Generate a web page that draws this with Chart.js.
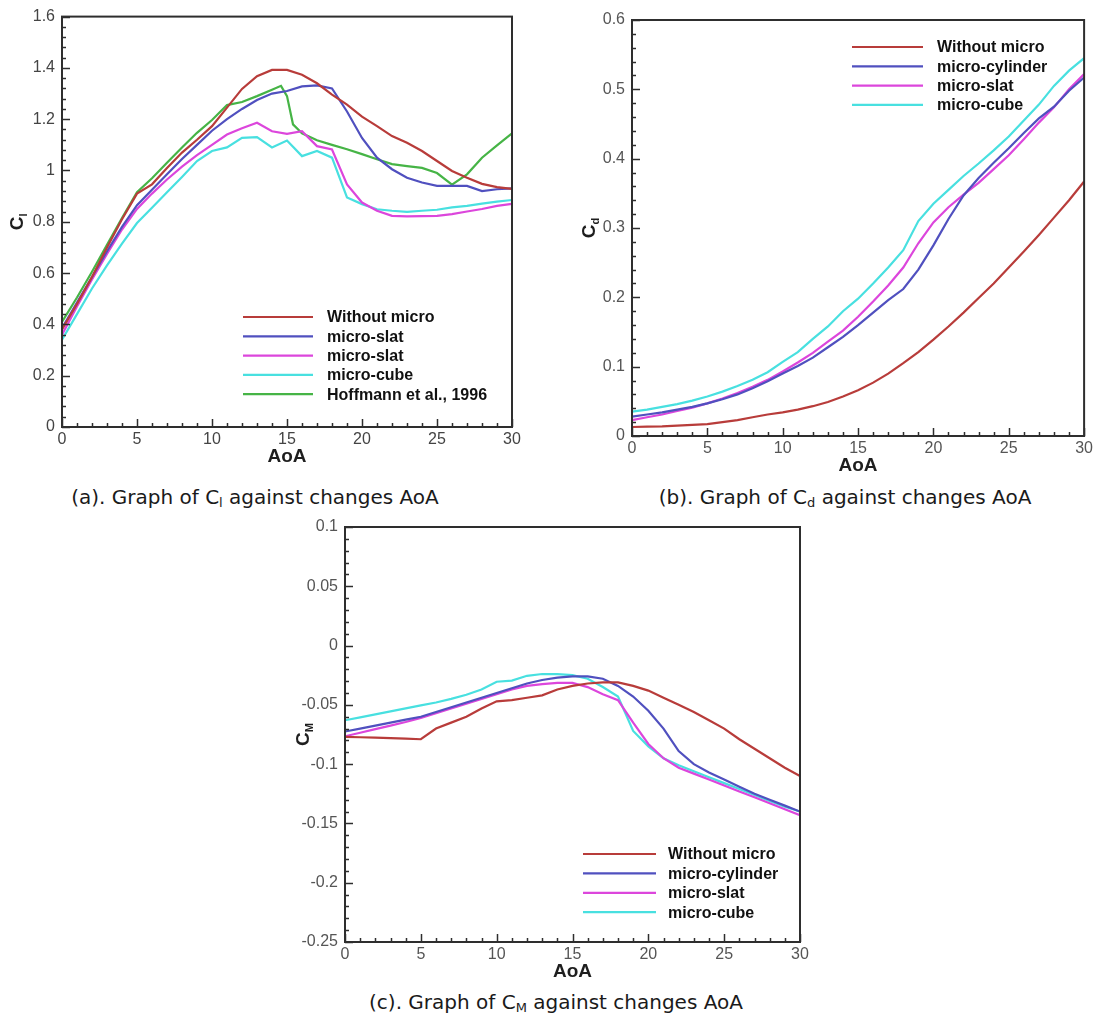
<!DOCTYPE html>
<html lang="en">
<head>
  <meta charset="UTF-8">
  <title>Cl, Cd and CM against AoA</title>
  <script src="https://cdn.jsdelivr.net/npm/chart.js"></script>
  <style>
    body { margin: 0; background: #fff; width: 1096px; height: 1018px; position: relative; overflow: hidden; }
    .box { position: absolute; }
    .cap { position: absolute; font-family: "DejaVu Sans", sans-serif; font-size: 20px;
           line-height: 24px; color: #1a1a1a; white-space: nowrap; transform: translateX(-50%); }
    .cap sub { font-size: 13px; vertical-align: -3px; line-height: 0; }
  </style>
</head>
<body>
  <div class="box" style="left:0;top:0;width:540px;height:470px"><canvas id="chartA"></canvas></div>
  <div class="box" style="left:560px;top:0;width:536px;height:480px"><canvas id="chartB"></canvas></div>
  <div class="box" style="left:270px;top:510px;width:550px;height:470px"><canvas id="chartC"></canvas></div>

  <div class="cap" style="left:255px;top:485px">(a). Graph of C<sub>l</sub> against changes AoA</div>
  <div class="cap" style="left:845px;top:485px">(b). Graph of C<sub>d</sub> against changes AoA</div>
  <div class="cap" style="left:556px;top:990px">(c). Graph of C<sub>M</sub> against changes AoA</div>

  <script>
    // angle of attack (deg)
    const aoa = [0,1,2,3,4,5,6,7,8,9,10,11,12,13,14,15,16,17,18,19,20,21,22,23,24,25,26,27,28,29,30];
    const hoffAoa = [0,1,2,3,4,5,6,7,8,9,10,11,12,13,14,14.6,15,15.4,16,17,18,19,20,21,22,23,24,25,26,27,28,29,30];

    // (a) lift coefficient
    const clWithout = [0.38,0.48,0.585,0.70,0.81,0.91,0.946,1.01,1.07,1.12,1.173,1.245,1.318,1.368,1.392,1.392,1.373,1.34,1.296,1.257,1.21,1.173,1.134,1.108,1.076,1.037,0.998,0.972,0.948,0.935,0.928];
    const clSlat1   = [0.385,0.485,0.585,0.685,0.78,0.865,0.925,0.985,1.045,1.10,1.155,1.20,1.24,1.275,1.30,1.31,1.328,1.332,1.32,1.23,1.127,1.05,1.005,0.972,0.953,0.94,0.94,0.94,0.92,0.927,0.93];
    const clSlat2   = [0.36,0.47,0.575,0.675,0.77,0.85,0.91,0.965,1.015,1.06,1.10,1.14,1.165,1.186,1.153,1.143,1.153,1.095,1.082,0.946,0.875,0.843,0.823,0.821,0.822,0.823,0.83,0.84,0.85,0.862,0.87];
    const clCube    = [0.34,0.44,0.54,0.63,0.715,0.795,0.855,0.915,0.975,1.037,1.076,1.09,1.127,1.13,1.09,1.117,1.056,1.076,1.05,0.895,0.869,0.849,0.843,0.839,0.843,0.847,0.856,0.862,0.871,0.879,0.885];
    const clHoff    = [0.41,0.505,0.605,0.71,0.815,0.915,0.97,1.03,1.09,1.147,1.197,1.255,1.267,1.29,1.315,1.33,1.29,1.18,1.145,1.118,1.10,1.083,1.064,1.044,1.025,1.017,1.01,0.99,0.945,0.985,1.05,1.098,1.145];

    // (b) drag coefficient
    const cdWithout  = [0.013,0.0135,0.014,0.015,0.016,0.017,0.02,0.023,0.027,0.031,0.034,0.038,0.043,0.049,0.057,0.066,0.077,0.09,0.105,0.121,0.139,0.158,0.178,0.199,0.22,0.243,0.266,0.29,0.315,0.34,0.367];
    const cdCylinder = [0.028,0.031,0.034,0.038,0.042,0.047,0.053,0.06,0.069,0.079,0.09,0.101,0.113,0.128,0.143,0.16,0.178,0.196,0.212,0.24,0.275,0.313,0.347,0.372,0.394,0.415,0.437,0.458,0.475,0.498,0.517];
    const cdSlat     = [0.023,0.027,0.031,0.036,0.041,0.047,0.054,0.062,0.071,0.081,0.093,0.106,0.12,0.136,0.152,0.172,0.194,0.217,0.243,0.278,0.308,0.33,0.348,0.365,0.385,0.405,0.428,0.452,0.474,0.5,0.522];
    const cdCube     = [0.035,0.038,0.042,0.046,0.051,0.057,0.064,0.072,0.081,0.092,0.107,0.121,0.14,0.158,0.18,0.198,0.22,0.243,0.268,0.31,0.335,0.355,0.375,0.393,0.412,0.432,0.455,0.478,0.505,0.527,0.545];

    // (c) moment coefficient
    const cmWithout  = [-0.077,-0.0773,-0.0776,-0.078,-0.0785,-0.079,-0.07,-0.065,-0.06,-0.053,-0.047,-0.046,-0.044,-0.042,-0.037,-0.034,-0.032,-0.031,-0.031,-0.034,-0.038,-0.044,-0.05,-0.056,-0.063,-0.07,-0.079,-0.087,-0.095,-0.103,-0.11];
    const cmCylinder = [-0.0725,-0.07,-0.0675,-0.065,-0.0625,-0.06,-0.056,-0.052,-0.048,-0.044,-0.04,-0.036,-0.032,-0.029,-0.027,-0.026,-0.026,-0.028,-0.034,-0.043,-0.055,-0.07,-0.089,-0.1,-0.107,-0.113,-0.119,-0.125,-0.13,-0.135,-0.14];
    const cmSlat     = [-0.0765,-0.0735,-0.0705,-0.0675,-0.0645,-0.061,-0.057,-0.053,-0.049,-0.045,-0.041,-0.037,-0.034,-0.0325,-0.0315,-0.0315,-0.035,-0.041,-0.046,-0.065,-0.083,-0.095,-0.103,-0.108,-0.113,-0.118,-0.123,-0.128,-0.133,-0.138,-0.143];
    const cmCube     = [-0.063,-0.0605,-0.058,-0.0555,-0.053,-0.0505,-0.048,-0.045,-0.0415,-0.037,-0.0305,-0.0295,-0.0255,-0.024,-0.024,-0.025,-0.028,-0.035,-0.043,-0.072,-0.085,-0.095,-0.101,-0.106,-0.111,-0.116,-0.121,-0.126,-0.131,-0.136,-0.14];

    const RED = '#b83c3a', BLUE = '#5050bf', MAGENTA = '#dc46dc', CYAN = '#48e0e0', GREEN = '#46b446';

    Chart.defaults.font.family = '"Liberation Sans", Arial, sans-serif';
    Chart.defaults.animation = false;

    function series(label, color, xs, ys) {
      return {
        label: label,
        data: xs.map((x, i) => ({ x: x, y: ys[i] })),
        borderColor: color,
        borderWidth: 2.2,
        pointRadius: 0,
        tension: 0,
        fill: false
      };
    }

    // frame, inward ticks, axis titles and legend, drawn on top of the chart
    function decor(cfg) {
      return {
        id: 'decor',
        afterDraw(chart) {
          const ctx = chart.ctx;
          const a = chart.chartArea;
          const xs = chart.scales.x, ys = chart.scales.y;
          ctx.save();
          ctx.strokeStyle = '#2e2e2e';
          ctx.lineWidth = 1.5;
          // minor + major ticks on x
          const xn = Math.round(xs.max - xs.min);
          for (let i = 0; i <= xn; i++) {
            const px = Math.round(xs.getPixelForValue(xs.min + i)) + 0.5;
            const len = (i % 5 === 0) ? 8 : 4;
            ctx.beginPath(); ctx.moveTo(px, a.bottom); ctx.lineTo(px, a.bottom - len); ctx.stroke();
          }
          // minor + major ticks on y
          const yn = Math.round((ys.max - ys.min) / cfg.yMinor);
          for (let i = 0; i <= yn; i++) {
            const py = Math.round(ys.getPixelForValue(ys.min + i * cfg.yMinor)) + 0.5;
            const len = (i % 5 === 0) ? 8 : 4;
            ctx.beginPath(); ctx.moveTo(a.left, py); ctx.lineTo(a.left + len, py); ctx.stroke();
          }
          ctx.lineWidth = 2;
          ctx.strokeRect(a.left, a.top, a.right - a.left, a.bottom - a.top);

          // x title
          ctx.fillStyle = '#1e1e1e';
          ctx.font = 'bold 19px "Liberation Sans", Arial, sans-serif';
          ctx.textAlign = 'center';
          ctx.textBaseline = 'middle';
          ctx.fillText('AoA', (a.left + a.right) / 2, a.bottom + 30);

          // rotated y title with subscript
          ctx.save();
          ctx.translate(a.left - cfg.yTitleGap, (a.top + a.bottom) / 2);
          ctx.rotate(-Math.PI / 2);
          ctx.textAlign = 'left';
          ctx.textBaseline = 'alphabetic';
          ctx.font = 'bold 19px "Liberation Sans", Arial, sans-serif';
          const wc = ctx.measureText('C').width;
          ctx.font = 'bold 11px "Liberation Sans", Arial, sans-serif';
          const wsub = ctx.measureText(cfg.ySub).width;
          const x0 = -(wc + wsub) / 2;
          ctx.font = 'bold 19px "Liberation Sans", Arial, sans-serif';
          ctx.fillText('C', x0, 7);
          ctx.font = 'bold 11px "Liberation Sans", Arial, sans-serif';
          ctx.fillText(cfg.ySub, x0 + wc, 11);
          ctx.restore();

          // legend
          ctx.textAlign = 'left';
          ctx.textBaseline = 'middle';
          ctx.font = 'bold 16px "Liberation Sans", Arial, sans-serif';
          chart.data.datasets.forEach((ds, i) => {
            const y = cfg.legY + i * cfg.legDy;
            ctx.strokeStyle = ds.borderColor;
            ctx.lineWidth = 2.2;
            ctx.beginPath(); ctx.moveTo(cfg.legX1, y); ctx.lineTo(cfg.legX2, y); ctx.stroke();
            ctx.fillStyle = '#111';
            ctx.fillText(ds.label, cfg.legText, y + 1);
          });
          ctx.restore();
        }
      };
    }

    function makeChart(id, datasets, box, yAxis, cfg) {
      const fmt = v => String(+Number(v).toFixed(3));
      return new Chart(document.getElementById(id), {
        type: 'line',
        data: { datasets: datasets },
        options: {
          responsive: true,
          maintainAspectRatio: false,
          layout: { autoPadding: false, padding: { left: 0, top: box.top, right: box.right, bottom: 0 } },
          plugins: { legend: { display: false }, tooltip: { enabled: false } },
          scales: {
            x: {
              type: 'linear', min: 0, max: 30,
              grid: { display: false, drawTicks: false }, border: { display: false },
              ticks: { stepSize: 5, autoSkip: false, maxRotation: 0, padding: 3, color: cfg.tickColor,
                       font: { size: 16 }, callback: fmt },
              afterFit: s => { s.height = box.xHeight; }
            },
            y: {
              type: 'linear', min: yAxis.min, max: yAxis.max,
              grid: { display: false, drawTicks: false }, border: { display: false },
              ticks: { stepSize: yAxis.step, autoSkip: false, padding: 7, color: cfg.tickColor,
                       font: { size: 16 }, callback: fmt },
              afterFit: s => { s.width = box.yWidth; }
            }
          }
        },
        plugins: [decor(cfg)]
      });
    }

    makeChart('chartA', [
      series('Without micro', RED, aoa, clWithout),
      series('micro-slat', BLUE, aoa, clSlat1),
      series('micro-slat', MAGENTA, aoa, clSlat2),
      series('micro-cube', CYAN, aoa, clCube),
      series('Hoffmann et al., 1996', GREEN, hoffAoa, clHoff)
    ], { top: 15, right: 28, xHeight: 43, yWidth: 62 },
       { min: 0, max: 1.6, step: 0.2 },
       { yMinor: 0.04, ySub: 'l', yTitleGap: 46, tickColor: '#444',
         legX1: 243, legX2: 313, legText: 327, legY: 317, legDy: 19.3 });

    makeChart('chartB', [
      series('Without micro', RED, aoa, cdWithout),
      series('micro-cylinder', BLUE, aoa, cdCylinder),
      series('micro-slat', MAGENTA, aoa, cdSlat),
      series('micro-cube', CYAN, aoa, cdCube)
    ], { top: 20, right: 9, xHeight: 44, yWidth: 72 },
       { min: 0, max: 0.6, step: 0.1 },
       { yMinor: 0.02, ySub: 'd', yTitleGap: 44, tickColor: '#555',
         legX1: 292, legX2: 363, legText: 377, legY: 47, legDy: 19.3 });

    makeChart('chartC', [
      series('Without micro', RED, aoa, cmWithout),
      series('micro-cylinder', BLUE, aoa, cmCylinder),
      series('micro-slat', MAGENTA, aoa, cmSlat),
      series('micro-cube', CYAN, aoa, cmCube)
    ], { top: 17, right: 20, xHeight: 38, yWidth: 75 },
       { min: -0.25, max: 0.1, step: 0.05 },
       { yMinor: 0.01, ySub: 'M', yTitleGap: 43, tickColor: '#555',
         legX1: 313, legX2: 386, legText: 398, legY: 344, legDy: 19.4 });
  </script>
</body>
</html>
